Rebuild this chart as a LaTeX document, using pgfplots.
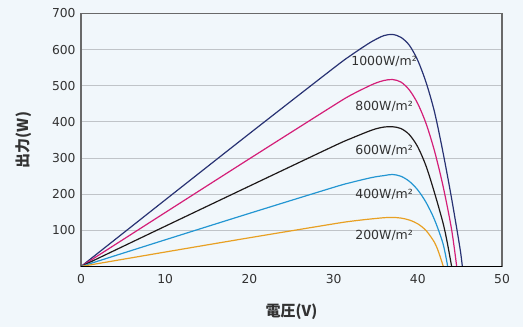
\documentclass[border=0pt]{standalone}
\usepackage{pgfplots}
\pgfplotsset{compat=1.18}
\usepackage{fontspec}
\setmainfont{DejaVu Sans}
\newfontfamily\cjk{Noto Sans CJK JP}
\definecolor{bg}{RGB}{241,247,251}
\definecolor{gridc}{RGB}{192,196,200}
\definecolor{axc}{RGB}{105,105,105}
\definecolor{txt}{RGB}{50,50,50}
\definecolor{cnavy}{RGB}{40,50,115}
\definecolor{cmag}{RGB}{212,30,120}
\definecolor{cblk}{RGB}{30,25,25}
\definecolor{cblue}{RGB}{35,150,210}
\definecolor{corange}{RGB}{232,160,35}
\begin{document}
\begin{tikzpicture}
\fill[bg] (0,0) rectangle (523bp,327bp);
\begin{axis}[
  at={(81bp,60.5bp)}, anchor=south west,
  scale only axis, width=421bp, height=253bp,
  xmin=0, xmax=50, ymin=0, ymax=700,
  xtick={0,10,...,50}, ytick={100,200,...,700},
  ymajorgrids,
  major grid style={draw=gridc, line width=1bp},
  major tick length=0pt,
  axis line style={draw=axc, line width=1.2bp},
  tick label style={font=\fontsize{12.3bp}{14bp}\selectfont, text=txt},
  /pgf/number format/assume math mode=true,
  xticklabel style={yshift=-4bp},
  yticklabel style={xshift=-2bp},
  xlabel={\cjk\bfseries 電圧(V)},
  ylabel={\cjk\bfseries 出力(W)},
  label style={font=\fontsize{15bp}{17bp}\selectfont, text=txt},
  xlabel style={at={(axis description cs:0.5,0)}, anchor=center, yshift=-45.5bp},
  ylabel style={at={(axis description cs:-0.1366,0.5)}, anchor=center},
  every axis plot/.append style={line width=1.2bp, smooth, mark=none},
  clip=true,
]
% 1000 W/m2
\addplot[cnavy] coordinates {
 (0,0) (10,184.2) (20,367.6) (30,549) (32,583.4) (34,614.7) (35,628.3) (36,639) (37,642)
 (38,634) (39,612) (40,570) (41,508) (42,426) (43,315) (44,190) (45,52) (45.29,0)};
% 800 W/m2
\addplot[cmag] coordinates {
 (0,0) (10,149.2) (20,298) (30,445.5) (32,473.6) (34,497.1) (35,507.5) (36,514.8) (37,517.3)
 (38,510.3) (39,488.3) (40,450.3) (41,394.3) (42,318.3) (43,222.3) (44,104.3) (44.62,0)};
% 600 W/m2
\addplot[cblk] coordinates {
 (0,0) (10,111.4) (20,222.4) (30,333) (32,353.6) (34,372.6) (35,380.8) (36,385.9) (37,386.7)
 (38,381.7) (39,364.7) (40,330.7) (41,276.7) (42,202.7) (43,120) (43.5,66) (44.02,0)};
% 400 W/m2
\addplot[cblue] coordinates {
 (0,0) (10,73.8) (20,147) (30,219) (32,232) (34,243.4) (35,248.2) (36,251.6) (37,254.6)
 (38,249.6) (39,235.6) (40,211.6) (41,176.6) (42,128.6) (43,62.6) (43.55,0)};
% 200 W/m2
\addplot[corange] coordinates {
 (0,0) (10,40) (20,79.5) (30,118) (32,125) (34,130.5) (35,132.8) (36,135) (37,135.8)
 (38,134) (39,128.5) (40,118) (41,99) (42,66) (42.5,38) (43.03,0)};
\draw[black, line width=1.2bp] (rel axis cs:0,0) -- (rel axis cs:1,0);
\begin{scope}[every node/.style={font=\fontsize{12.5bp}{14bp}\selectfont, text=txt, inner sep=0pt}]
\node at (axis cs:36,567) {1000W/m²};
\node at (axis cs:36,442) {800W/m²};
\node at (axis cs:36,320) {600W/m²};
\node at (axis cs:36,200) {400W/m²};
\node at (axis cs:36,85) {200W/m²};
\end{scope}
\end{axis}
\end{tikzpicture}
\end{document}
